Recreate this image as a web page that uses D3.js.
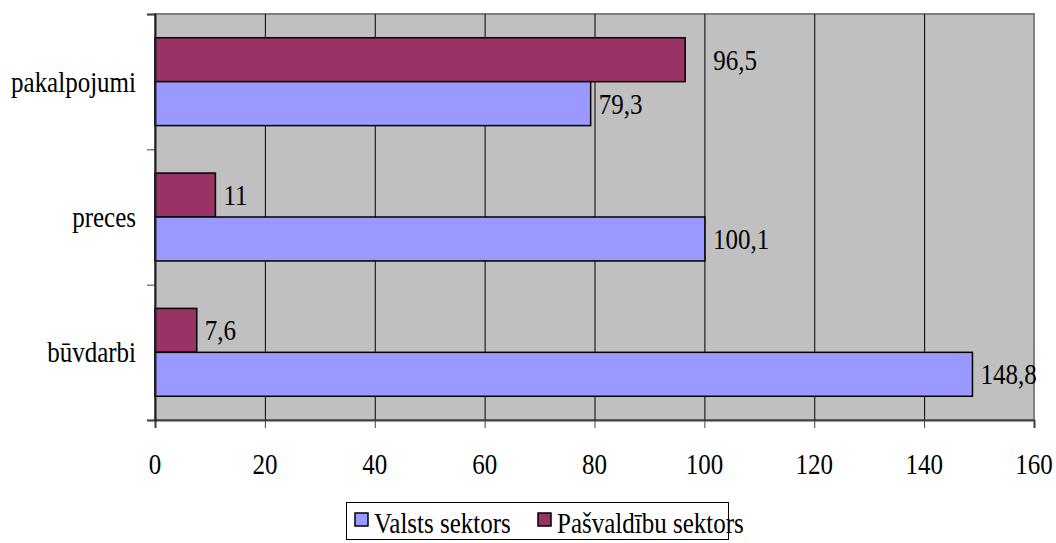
<!DOCTYPE html>
<html>
<head>
<meta charset="utf-8">
<script src="https://cdn.jsdelivr.net/npm/d3@7"></script>
<style>
  body { margin: 0; background: #fff; }
</style>
</head>
<body>
<div id="chart"></div>
<script>
// data
var categories = ["pakalpojumi", "preces", "būvdarbi"];
var seriesNames = ["Pašvaldību sektors", "Valsts sektors"];
var valsts = [79.3, 100.1, 148.8];
var pasvaldibu = [96.5, 11, 7.6];
var xTicks = [0, 20, 40, 60, 80, 100, 120, 140, 160];

var colors = {"Valsts sektors": "#9999FF", "Pašvaldību sektors": "#993366"};

var W = 1056, H = 543;
var plot = {left: 155, top: 14, right: 1034, bottom: 420};
var fs = 25, sy = 1.2; // text in the source looks stretched vertically

var svg = d3.select("#chart").append("svg")
  .attr("width", W)
  .attr("height", H)
  .attr("font-family", "Liberation Serif");

var x = d3.scaleLinear().domain([0, 160]).range([plot.left, plot.right]);
var y = d3.scaleBand().domain(categories).range([plot.top, plot.bottom]);
var inner = d3.scaleBand().domain(seriesNames)
  .range([0, y.bandwidth()]).paddingOuter(0.54).paddingInner(0);

function label(g, tx, ty, str, anchor) {
  g.append("text")
    .attr("transform", "translate(" + tx + "," + ty + ") scale(1," + sy + ")")
    .attr("text-anchor", anchor || "start")
    .attr("font-family", "Liberation Serif")
    .attr("font-size", fs)
    .attr("fill", "#000")
    .text(str);
}

// plot area
svg.append("rect")
  .attr("x", plot.left).attr("y", plot.top)
  .attr("width", plot.right - plot.left).attr("height", plot.bottom - plot.top)
  .attr("fill", "#C0C0C0")
  .attr("stroke", "#808080").attr("stroke-width", 2);

// gridlines
svg.append("g").selectAll("line")
  .data(xTicks.slice(1, -1))
  .enter().append("line")
  .attr("x1", function(d) { return x(d) + 0.5; })
  .attr("x2", function(d) { return x(d) + 0.5; })
  .attr("y1", plot.top).attr("y2", plot.bottom)
  .attr("stroke", "#000").attr("stroke-width", 1);

// bars
var rows = categories.map(function(c, i) {
  return [{cat: c, s: "Pašvaldību sektors", v: pasvaldibu[i]},
          {cat: c, s: "Valsts sektors", v: valsts[i]}];
});
var flat = d3.merge(rows);

svg.append("g").selectAll("rect")
  .data(flat)
  .enter().append("rect")
  .attr("x", x(0))
  .attr("y", function(d) { return y(d.cat) + inner(d.s); })
  .attr("width", function(d) { return x(d.v) - x(0); })
  .attr("height", inner.bandwidth())
  .attr("fill", function(d) { return colors[d.s]; })
  .attr("stroke", "#000").attr("stroke-width", 1.5);

// value labels
var lab = svg.append("g");
flat.forEach(function(d) {
  var cy = y(d.cat) + inner(d.s) + inner.bandwidth() / 2;
  // the top label sits further out in the source, clear of the gridline
  var dx = (d.v > 90 && d.s === "Pašvaldību sektors") ? 28 : 8;
  label(lab, x(d.v) + dx, cy + 0.33 * fs * sy, String(d.v).replace(".", ","));
});

// axes (drop d3's default sans-serif font attribute on the axis groups)
var xAxis = d3.axisBottom(x).tickValues(xTicks).tickSize(8).tickFormat("");
svg.append("g")
  .attr("transform", "translate(0," + plot.bottom + ")")
  .call(xAxis)
  .call(function(g) {
    g.attr("font-family", null).attr("font-size", null);
    g.selectAll("text").remove();
    g.select(".domain").attr("stroke", "#404040").attr("stroke-width", 2);
    g.selectAll(".tick line").attr("stroke", "#404040");
  });

var yTicks = d3.scaleLinear().domain([0, 3]).range([plot.bottom, plot.top]);
var yAxis = d3.axisLeft(yTicks).ticks(3).tickSize(8).tickFormat("");
svg.append("g")
  .attr("transform", "translate(" + plot.left + ",0)")
  .call(yAxis)
  .call(function(g) {
    g.attr("font-family", null).attr("font-size", null);
    g.selectAll("text").remove();
    g.select(".domain").attr("stroke", "#202020").attr("stroke-width", 2);
    g.selectAll(".tick line").attr("stroke", "#404040");
  });

var tl = svg.append("g");
xTicks.forEach(function(t) {
  label(tl, x(t), 474, t, "middle");
});
categories.forEach(function(c) {
  label(tl, 136, y(c) + y.bandwidth() / 2 + 0.33 * fs * sy, c, "end");
});

// legend
var lg = svg.append("g");
lg.append("rect")
  .attr("x", 346.5).attr("y", 502.5).attr("width", 382).attr("height", 37)
  .attr("fill", "#fff").attr("stroke", "#000").attr("stroke-width", 1);
var legendItems = ["Valsts sektors", "Pašvaldību sektors"];
var lx = [355, 538];
legendItems.forEach(function(s, i) {
  lg.append("rect")
    .attr("x", lx[i]).attr("y", 513).attr("width", 13).attr("height", 13)
    .attr("fill", colors[s]).attr("stroke", "#000").attr("stroke-width", 1.5);
  label(lg, lx[i] + 19, 533, s);
});
</script>
</body>
</html>
